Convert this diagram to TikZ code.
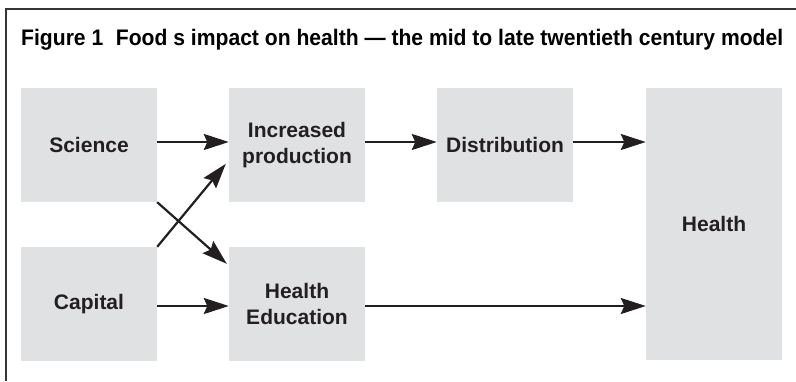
\documentclass[tikz,border=0pt]{standalone}
\usepackage{fontspec}
\setmainfont{Liberation Sans}
\usetikzlibrary{arrows.meta}
\definecolor{ink}{HTML}{231F20}
\definecolor{boxgray}{HTML}{E0E1E3}
\newsavebox\figtitlebox
\begin{document}
\sbox\figtitlebox{\fontsize{22.5}{26}\selectfont\bfseries Figure 1\hspace{0.6em}Food s impact on health --- the mid to late twentieth century model}
\pgfmathsetmacro\titlesx{762/\the\wd\figtitlebox}
\begin{tikzpicture}[x=1pt,y=-1pt,
  stagebox/.style={fill=boxgray, draw=none, inner sep=0pt, minimum width=136pt,
    text=ink, font=\fontsize{21}{26}\selectfont\bfseries, align=center},
  flow/.style={draw=ink, line width=2.2pt, -{Stealth[length=25pt, width=16pt, inset=3.5pt]}},
  frameline/.style={draw=ink!90, line width=1.6pt}]
  \useasboundingbox (0,0) rectangle (796,381);
  % open frame along the top and left
  \draw[frameline] (5.8,381) -- (5.8,9) -- (796,9);
  % caption
  \node[anchor=base west, inner sep=0pt, text=ink] (title) at (21,45.5)
    {\scalebox{\titlesx}[1]{\usebox\figtitlebox}};
  % stages
  \node[stagebox, minimum height=114pt] (science) at (89,145) {Science};
  \node[stagebox, minimum height=114pt] (capital) at (89,304) {Capital};
  \node[stagebox, minimum height=114pt] (production) at (297,145) {Increased\\production};
  \node[stagebox, minimum height=114pt] (education) at (297,304) {Health\\Education};
  \node[stagebox, minimum height=114pt] (distribution) at (505,145) {Distribution};
  \node[stagebox, minimum height=272pt] (health) at (714,224) {Health};
  % connectors
  \draw[flow] (science.east |- 0,142) -- (production.west |- 0,142);
  \draw[flow] (production.east |- 0,142) -- (distribution.west |- 0,142);
  \draw[flow] (distribution.east |- 0,142) -- (health.west |- 0,142);
  \draw[flow] (capital.east |- 0,306) -- (education.west |- 0,306);
  \draw[flow] (education.east |- 0,306) -- (health.west |- 0,306);
  \draw[flow] (science.south east) -- ([xshift=-2pt,yshift=-17pt]education.north west);
  \draw[flow] (capital.north east) -- ([xshift=-3pt,yshift=-76pt]production.north west);
\end{tikzpicture}
\end{document}
